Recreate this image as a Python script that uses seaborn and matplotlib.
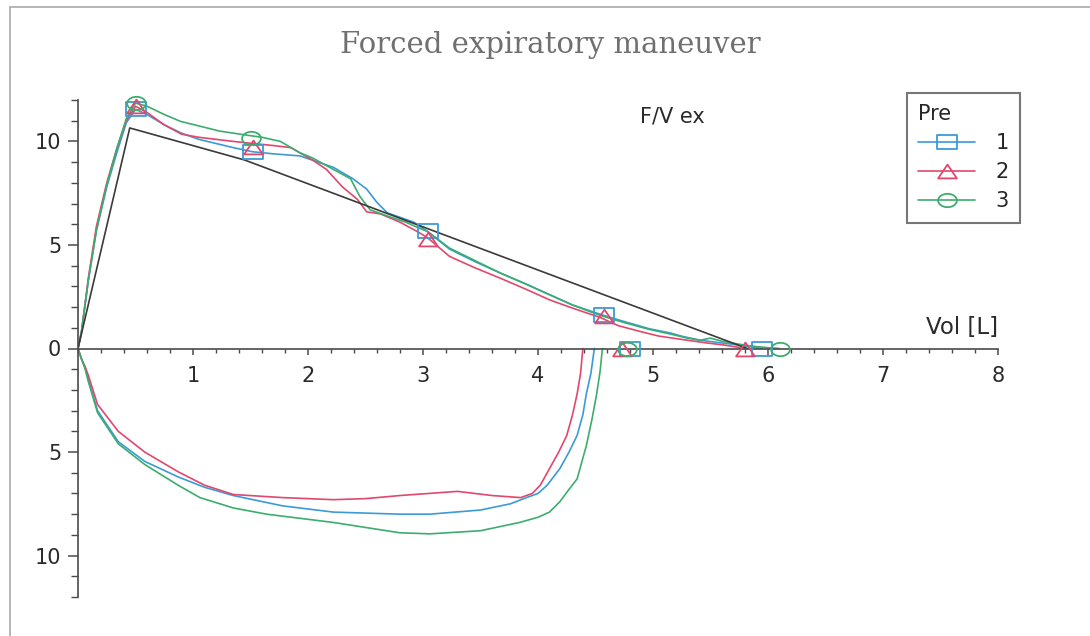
import numpy as np
import pandas as pd
import matplotlib
matplotlib.use("Agg")
import matplotlib.pyplot as plt
from matplotlib.path import Path
from matplotlib.lines import Line2D
from matplotlib.ticker import MultipleLocator, FixedLocator, FuncFormatter
import seaborn as sns

# ---- expiratory limbs (flow > 0) ----
exp1_vol = [0, 0.03, 0.09, 0.16, 0.25, 0.34, 0.42, 0.5, 0.6, 0.75, 0.9, 1.05, 1.2, 1.35, 1.52,
            1.7, 1.93, 2.22, 2.39, 2.51, 2.6, 2.69, 2.92, 3.04, 3.23, 3.45, 3.67, 3.9, 4.1,
            4.3, 4.57, 4.75, 4.97, 5.15, 5.26, 5.41, 5.55, 5.7, 5.85, 5.95]
exp1_flow = [0, 0.8, 3.3, 5.7, 7.8, 9.5, 10.9, 11.55, 11.3, 10.8, 10.4, 10.1, 9.9, 9.7, 9.5,
             9.4, 9.3, 8.75, 8.2, 7.7, 7.05, 6.55, 6.1, 5.65, 4.8, 4.2, 3.65, 3.1, 2.6,
             2.1, 1.6, 1.3, 0.95, 0.75, 0.58, 0.4, 0.3, 0.2, 0.08, 0]

exp2_vol = [0, 0.03, 0.09, 0.16, 0.25, 0.34, 0.42, 0.5, 0.6, 0.75, 0.9, 1.05, 1.2, 1.35, 1.52,
            1.7, 1.85, 2.04, 2.16, 2.3, 2.43, 2.51, 2.63, 2.8, 2.95, 3.04, 3.23, 3.45, 3.67,
            3.9, 4.1, 4.3, 4.54, 4.7, 4.89, 5.05, 5.26, 5.45, 5.6, 5.72, 5.8]
exp2_flow = [0, 0.8, 3.4, 5.9, 8.0, 9.7, 11.0, 11.7, 11.4, 10.8, 10.35, 10.2, 10.1, 10.0, 9.9,
             9.8, 9.7, 9.1, 8.65, 7.8, 7.2, 6.6, 6.5, 6.1, 5.65, 5.35, 4.45, 3.9, 3.4,
             2.85, 2.35, 1.95, 1.5, 1.1, 0.82, 0.6, 0.43, 0.28, 0.18, 0.08, 0]

exp3_vol = [0, 0.03, 0.09, 0.16, 0.25, 0.34, 0.42, 0.5, 0.6, 0.75, 0.89, 1.05, 1.23, 1.47, 1.6,
            1.76, 1.93, 2.04, 2.22, 2.37, 2.45, 2.54, 2.69, 2.85, 2.95, 3.04, 3.23, 3.45,
            3.67, 3.9, 4.1, 4.3, 4.54, 4.75, 4.97, 5.15, 5.3, 5.41, 5.5, 5.6, 5.7, 5.85,
            6.0, 6.1]
exp3_flow = [0, 0.8, 3.3, 5.7, 7.9, 9.7, 11.1, 11.85, 11.7, 11.3, 10.97, 10.75, 10.5, 10.3,
             10.2, 10.0, 9.45, 9.2, 8.65, 8.2, 7.35, 6.7, 6.4, 6.1, 5.85, 5.65, 4.85, 4.25,
             3.65, 3.1, 2.6, 2.1, 1.6, 1.25, 0.92, 0.7, 0.5, 0.4, 0.5, 0.35, 0.25, 0.12,
             0.04, 0]

# ---- inspiratory limbs (flow < 0) ----
ins1_vol = [0, 0.03, 0.06, 0.09, 0.17, 0.35, 0.58, 0.87, 1.1, 1.35, 1.78, 2.22, 2.8, 3.06,
            3.5, 3.76, 3.9, 4.0, 4.08, 4.19, 4.27, 4.34, 4.39, 4.42, 4.46, 4.49]
ins1_flow = [0, -0.5, -0.9, -1.5, -3.0, -4.5, -5.45, -6.2, -6.7, -7.1, -7.6, -7.9, -8.0,
             -8.0, -7.8, -7.5, -7.2, -7.0, -6.6, -5.8, -5.0, -4.2, -3.2, -2.2, -1.2, 0]

ins2_vol = [0, 0.03, 0.06, 0.09, 0.17, 0.35, 0.58, 0.87, 1.1, 1.35, 1.78, 2.22, 2.5, 2.8,
            3.3, 3.6, 3.85, 3.95, 4.02, 4.1, 4.18, 4.25, 4.3, 4.34, 4.37, 4.39]
ins2_flow = [0, -0.5, -0.85, -1.3, -2.7, -4.0, -5.0, -5.95, -6.6, -7.05, -7.2, -7.3, -7.25,
             -7.1, -6.9, -7.1, -7.2, -7.0, -6.6, -5.8, -5.0, -4.2, -3.2, -2.2, -1.2, 0]

ins3_vol = [0, 0.03, 0.06, 0.09, 0.17, 0.35, 0.58, 0.87, 1.06, 1.35, 1.64, 2.22, 2.8, 3.06,
            3.5, 3.84, 4.0, 4.1, 4.19, 4.27, 4.34, 4.38, 4.42, 4.47, 4.51, 4.54, 4.56]
ins3_flow = [0, -0.5, -0.95, -1.6, -3.1, -4.6, -5.6, -6.6, -7.2, -7.7, -8.0, -8.4, -8.9,
             -8.95, -8.8, -8.4, -8.15, -7.9, -7.4, -6.8, -6.3, -5.5, -4.7, -3.4, -2.2,
             -1.1, 0]

# ---- symbols placed along each trial ----
mk1_vol = [0.5, 1.52, 3.04, 4.57, 4.8, 5.95]
mk1_flow = [11.55, 9.5, 5.65, 1.6, 0, 0]
mk2_vol = [0.5, 1.52, 3.04, 4.57, 4.73, 5.8]
mk2_flow = [11.7, 9.75, 5.3, 1.55, 0, 0]
mk3_vol = [0.5, 1.5, 4.77, 6.1]
mk3_flow = [11.85, 10.15, 0, 0]

# ---- predicted reference curve ----
ref_vol = [0, 0.45, 1.45, 5.82]
ref_flow = [0, 10.65, 9.1, 0]

trials = ["1", "2", "3"]
colors = {"1": "#3b9ad8", "2": "#e2476d", "3": "#3cad6c"}

frames = []
for t, (ev, ef, iv, iff) in zip(trials, [(exp1_vol, exp1_flow, ins1_vol, ins1_flow),
                                          (exp2_vol, exp2_flow, ins2_vol, ins2_flow),
                                          (exp3_vol, exp3_flow, ins3_vol, ins3_flow)]):
    frames.append(pd.DataFrame({"vol": ev, "flow": ef, "trial": t, "phase": "ex"}))
    frames.append(pd.DataFrame({"vol": iv, "flow": iff, "trial": t, "phase": "in"}))
loops = pd.concat(frames, ignore_index=True)

# wide, flat symbols
def shape(verts):
    verts = np.asarray(verts, dtype=float)
    codes = [Path.MOVETO] + [Path.LINETO] * (len(verts) - 2) + [Path.CLOSEPOLY]
    return Path(verts, codes)

rect = shape([(-0.72, -0.5), (0.72, -0.5), (0.72, 0.5), (-0.72, 0.5), (-0.72, -0.5)])
tri = shape([(-0.68, -0.5), (0.68, -0.5), (0.0, 0.5), (-0.68, -0.5)])
th = np.linspace(0, 2 * np.pi, 41)
ell = shape(np.column_stack([0.7 * np.cos(th), 0.5 * np.sin(th)]))
symbols = {"1": rect, "2": tri, "3": ell}
sym_size = {"1": 14.5, "2": 13.5, "3": 13.5}
mk = {"1": (mk1_vol, mk1_flow), "2": (mk2_vol, mk2_flow), "3": (mk3_vol, mk3_flow)}

sns.set_style("ticks")
plt.rcParams["font.family"] = ["DejaVu Sans"]

W, H = 1090, 636
fig = plt.figure(figsize=(W / 100, H / 100), dpi=100)
ax = fig.add_axes([78 / W, (H - 597) / H, 920 / W, 497 / H])

sns.lineplot(data=loops, x="vol", y="flow", hue="trial", units="phase",
             estimator=None, sort=False, palette=colors, legend=False,
             linewidth=1.2, ax=ax)
sns.lineplot(x=ref_vol, y=ref_flow, color="#3a3a3a", linewidth=1.2,
             estimator=None, sort=False, ax=ax)

for t in trials:
    ax.plot(mk[t][0], mk[t][1], linestyle="none", marker=symbols[t], ms=sym_size[t],
            mfc="none", mec=colors[t], mew=1.3, clip_on=False, zorder=4)

ax.set_xlim(0, 8)
ax.set_ylim(-12, 12)
ax.set_xlabel("")
ax.set_ylabel("")

for s in ("top", "right"):
    ax.spines[s].set_visible(False)
ax.spines["bottom"].set_position(("data", 0))
for s in ("left", "bottom"):
    ax.spines[s].set_color("#4a4a4a")
    ax.spines[s].set_linewidth(1.2)

ax.xaxis.set_major_locator(FixedLocator([1, 2, 3, 4, 5, 6, 7, 8]))
ax.xaxis.set_minor_locator(MultipleLocator(0.2))
ax.yaxis.set_major_locator(MultipleLocator(5))
ax.yaxis.set_minor_locator(MultipleLocator(1))
ax.yaxis.set_major_formatter(FuncFormatter(lambda v, p: f"{abs(v):g}"))

ax.tick_params(axis="x", which="major", direction="out", length=4.5, width=1.1,
               color="#4a4a4a", pad=8, labelsize=15, labelcolor="#2a2a2a")
ax.tick_params(axis="x", which="minor", direction="out", length=3, width=1.0, color="#4a4a4a")
ax.tick_params(axis="y", which="major", direction="out", length=7, width=1.1,
               color="#4a4a4a", pad=5, labelsize=15, labelcolor="#2a2a2a")
ax.tick_params(axis="y", which="minor", direction="out", length=5, width=1.0, color="#4a4a4a")

ax.text(4.89, 11.2, "F/V ex", ha="left", va="center", fontsize=15, color="#2a2a2a")
ax.text(8.0, 0.45, "Vol [L]", ha="right", va="bottom", fontsize=16.5, color="#2a2a2a")

fig.text(550 / W, 1 - 45 / H, "Forced expiratory maneuver", ha="center", va="center",
         fontsize=21, color="#707070", family="DejaVu Serif")

handles = [Line2D([], [], color=colors[t], lw=1.2, marker=symbols[t], ms=sym_size[t],
                  mfc="none", mec=colors[t], mew=1.3) for t in trials]
leg = ax.legend(handles, trials, title="Pre", loc="upper left",
                bbox_to_anchor=(907 / W, 1 - 93 / H), bbox_transform=fig.transFigure,
                borderaxespad=0, fontsize=15, title_fontsize=15, frameon=True,
                fancybox=False, edgecolor="#555555", handlelength=2.7,
                handletextpad=1.0, labelspacing=0.43, borderpad=0.55, alignment="left")
leg.get_frame().set_linewidth(1.5)

# page frame edges
fig.add_artist(Line2D([10 / W, 1], [1 - 7 / H, 1 - 7 / H], transform=fig.transFigure,
                      color="#b0b0b0", lw=1.3))
fig.add_artist(Line2D([10 / W, 10 / W], [0, 1 - 7 / H], transform=fig.transFigure,
                      color="#b0b0b0", lw=1.3))

fig.savefig("out.png", dpi=100)
